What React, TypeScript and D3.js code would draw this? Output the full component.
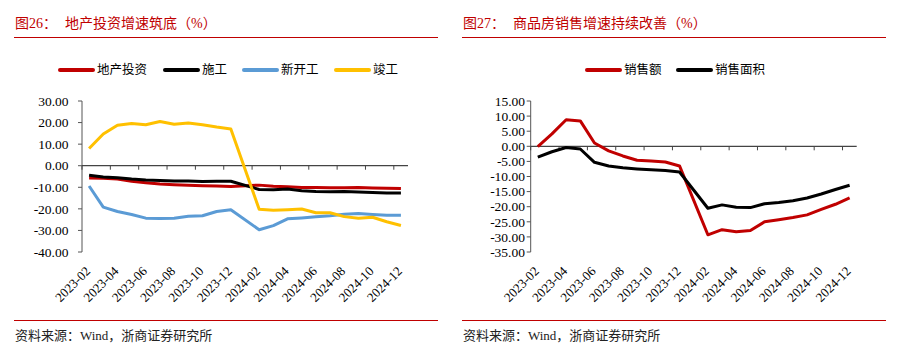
import { useEffect, useRef } from "react";
import * as d3 from "d3";

// monthly categories; 2024-01 has no value (Jan-Feb combined)
const months = [
    "2023-02", "2023-03", "2023-04", "2023-05", "2023-06", "2023-07", "2023-08", "2023-09",
    "2023-10", "2023-11", "2023-12", "2024-01", "2024-02", "2024-03", "2024-04", "2024-05",
    "2024-06", "2024-07", "2024-08", "2024-09", "2024-10", "2024-11", "2024-12",
];

// Figure 26
const investment = [-5.7, -5.8, -6.2, -7.2, -7.9, -8.5, -8.8, -9.1, -9.3, -9.4, -9.6, null,
    -9.0, -9.5, -9.8, -10.1, -10.1, -10.2, -10.2, -10.1, -10.3, -10.4, -10.6];
const construction = [-4.4, -5.2, -5.6, -6.2, -6.6, -6.8, -7.1, -7.1, -7.3, -7.2, -7.2, null,
    -11.0, -11.1, -10.8, -11.6, -12.0, -12.1, -12.0, -12.2, -12.4, -12.7, -12.7];
const newStarts = [-9.4, -19.2, -21.2, -22.6, -24.3, -24.5, -24.4, -23.4, -23.2, -21.2, -20.4, null,
    -29.7, -27.8, -24.6, -24.2, -23.7, -23.2, -22.5, -22.2, -22.6, -23.0, -23.0];
const completions = [8.0, 14.7, 18.8, 19.6, 19.0, 20.5, 19.2, 19.8, 19.0, 17.9, 17.0, null,
    -20.2, -20.7, -20.4, -20.1, -21.8, -21.8, -23.6, -24.4, -23.9, -26.0, -27.7];
const leftTicks = [30, 20, 10, 0, -10, -20, -30, -40];

// Figure 27
const salesAmount = [-0.1, 4.1, 8.8, 8.4, 1.1, -1.5, -3.2, -4.6, -4.9, -5.2, -6.5, null,
    -29.3, -27.6, -28.3, -27.9, -25.0, -24.3, -23.6, -22.7, -20.9, -19.2, -17.1];
const salesArea = [-3.6, -1.8, -0.4, -0.9, -5.3, -6.5, -7.1, -7.5, -7.8, -8.0, -8.5, null,
    -20.5, -19.4, -20.2, -20.3, -19.0, -18.6, -18.0, -17.1, -15.8, -14.3, -12.9];
const rightTicks = [15, 10, 5, 0, -5, -10, -15, -20, -25, -30, -35];

const RED = "#C00000";
const SERIF = "'Liberation Serif', 'Times New Roman', 'Noto Sans CJK SC', serif";

type Series = { label: string; color: string; values: (number | null)[]; legendX: number };

type PanelOpts = {
    x0: number;
    titleNo: string;
    title: string;
    titleX: number;
    axisLeft: number;
    axisRight: number;
    labelRight: number;
    domain: [number, number];
    ticks: number[];
    series: Series[];
};

const drawPanel = (svg: d3.Selection<SVGSVGElement, unknown, null, undefined>, o: PanelOpts) => {
    const g = svg.append("g").attr("font-family", SERIF);

    // title + red rules
    g.append("text").attr("x", o.x0 + 1).attr("y", 28).attr("font-size", 14).attr("fill", RED).text(o.titleNo);
    g.append("text").attr("x", o.titleX).attr("y", 28).attr("font-size", 14).attr("fill", RED).text(o.title);
    g.append("line").attr("x1", o.x0).attr("x2", o.x0 + 424).attr("y1", 37.5).attr("y2", 37.5)
        .attr("stroke", RED).attr("stroke-width", 1.2);
    g.append("line").attr("x1", o.x0).attr("x2", o.x0 + 424).attr("y1", 320.5).attr("y2", 320.5)
        .attr("stroke", RED).attr("stroke-width", 1.2);
    g.append("text").attr("x", o.x0 + 1).attr("y", 340).attr("font-size", 13).attr("fill", "#222")
        .text("资料来源：Wind，浙商证券研究所");

    const x = d3.scaleBand().domain(months).range([o.axisLeft, o.axisRight]).padding(0);
    const y = d3.scaleLinear().domain(o.domain).range([252, 101]);

    // y axis
    g.append("line").attr("x1", o.axisLeft).attr("x2", o.axisLeft).attr("y1", y(o.domain[1])).attr("y2", y(o.domain[0]))
        .attr("stroke", "#555").attr("stroke-width", 1);
    o.ticks.forEach((t) => {
        g.append("line").attr("x1", o.axisLeft - 4).attr("x2", o.axisLeft).attr("y1", y(t)).attr("y2", y(t))
            .attr("stroke", "#555");
        g.append("text").attr("x", o.labelRight).attr("y", y(t)).attr("dy", "0.35em")
            .attr("text-anchor", "end").attr("font-size", 13.5).attr("fill", "#000")
            .text(t.toFixed(2));
    });

    // x axis at zero
    g.append("line").attr("x1", o.axisLeft).attr("x2", o.axisRight).attr("y1", y(0)).attr("y2", y(0))
        .attr("stroke", "#444").attr("stroke-width", 1.2);
    months.forEach((m, i) => {
        if (i % 2 !== 0) return;
        const bx = x(m)!;
        g.append("line").attr("x1", bx).attr("x2", bx).attr("y1", y(0)).attr("y2", y(0) + 4).attr("stroke", "#444");
        const cx = bx + x.bandwidth() / 2;
        g.append("text").attr("text-anchor", "end").attr("font-size", 13).attr("fill", "#000")
            .attr("transform", `translate(${cx + 2},272) rotate(-45)`).text(m);
    });

    // lines
    const line = d3.line<[number, number]>().x((d) => d[0]).y((d) => d[1]);
    o.series.forEach((s) => {
        const pts: [number, number][] = [];
        s.values.forEach((v, i) => {
            if (v === null) return;
            pts.push([x(months[i])! + x.bandwidth() / 2, y(v)]);
        });
        g.append("path").attr("d", line(pts)).attr("fill", "none").attr("stroke", s.color)
            .attr("stroke-width", 3).attr("stroke-linejoin", "round");
    });

    // legend
    o.series.forEach((s) => {
        g.append("line").attr("x1", s.legendX).attr("x2", s.legendX + 33).attr("y1", 70).attr("y2", 70)
            .attr("stroke", s.color).attr("stroke-width", 4).attr("stroke-linecap", "round");
        g.append("text").attr("x", s.legendX + 37).attr("y", 70).attr("dy", "0.35em")
            .attr("font-size", 12.5).attr("fill", "#000").text(s.label);
    });
};

const App = () => {
    const ref = useRef<SVGSVGElement>(null);

    useEffect(() => {
        if (!ref.current) return;
        const svg = d3.select(ref.current);
        svg.selectAll("*").remove();

        drawPanel(svg, {
            x0: 14,
            titleNo: "图26：",
            title: "地产投资增速筑底（%）",
            titleX: 65,
            axisLeft: 82,
            axisRight: 408,
            labelRight: 68.5,
            domain: [-40, 30],
            ticks: leftTicks,
            series: [
                { label: "地产投资", color: RED, values: investment, legendX: 60 },
                { label: "施工", color: "#000000", values: construction, legendX: 165 },
                { label: "新开工", color: "#5B9BD5", values: newStarts, legendX: 244 },
                { label: "竣工", color: "#FFC000", values: completions, legendX: 336 },
            ],
        });

        drawPanel(svg, {
            x0: 462,
            titleNo: "图27：",
            title: "商品房销售增速持续改善（%）",
            titleX: 513,
            axisLeft: 530.7,
            axisRight: 856.7,
            labelRight: 525,
            domain: [-35, 15],
            ticks: rightTicks,
            series: [
                { label: "销售额", color: RED, values: salesAmount, legendX: 587 },
                { label: "销售面积", color: "#000000", values: salesArea, legendX: 678 },
            ],
        });
    }, []);

    return (
        <svg
            ref={ref}
            width={897}
            height={350}
            style={{ position: "absolute", left: 0, top: 0, background: "#fff" }}
        />
    );
};

export default App;
